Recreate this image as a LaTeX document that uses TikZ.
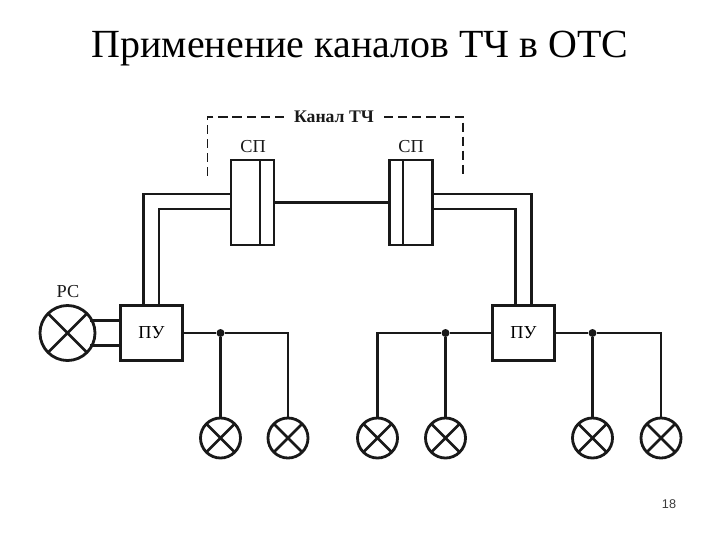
\documentclass[tikz,border=0pt]{standalone}
\usepackage{fontspec}
\setmainfont{Liberation Serif}
\newfontfamily\slidesans{Liberation Sans}
\usetikzlibrary{positioning}
\definecolor{ink}{RGB}{25,25,25}

\begin{document}
\begin{tikzpicture}[
  x=0.025cm, y=-0.025cm,
  wire/.style={draw=ink, line width=1.8pt},
  unit/.style={draw=ink, line width=2pt, inner sep=0pt, outer sep=0pt, minimum width=1.55cm, minimum height=1.39cm, font=\fontsize{13}{15}\selectfont},
  coupler/.style={draw=ink, line width=2pt, inner sep=0pt, outer sep=0pt, minimum width=1.075cm, minimum height=2.125cm},
  lamp/.style={circle, draw=ink, line width=2pt, inner sep=0pt, outer sep=0pt, minimum size=#1,
               path picture={\draw[ink, line width=1.8pt]
                 (path picture bounding box.north west) -- (path picture bounding box.south east)
                 (path picture bounding box.north east) -- (path picture bounding box.south west);}},
  lamp/.default=1cm,
  junction/.style={circle, fill=ink, inner sep=0pt, minimum size=0.2cm},
  lab/.style={font=\fontsize{13}{15}\selectfont, text=ink, inner sep=0pt},
  tract/.style={draw=ink, line width=1.3pt, dash pattern=on 6.5pt off 3.5pt}]
  \useasboundingbox (0,0) rectangle (720,540);
  \node[font=\fontsize{28.4}{34}\selectfont] (title) at (360,49) {Применение каналов ТЧ в ОТС};
  \node[font=\fontsize{9}{11}\slidesans\selectfont, text=ink!85] (page) at (669,504) {18};
  % couplers
  \node[coupler] (sp1) at (252.5,202.5) {};
  \node[coupler] (sp2) at (411,202.5) {};
  \coordinate (div1) at (260,160);
  \coordinate (div2) at (403,160);
  \draw[wire] (div1 |- sp1.north) -- (div1 |- sp1.south);
  \draw[wire] (div2 |- sp2.north) -- (div2 |- sp2.south);
  \node[lab] (splab1) at (253,147) {СП};
  \node[lab] (splab2) at (411,147) {СП};
  \draw[wire] (sp1.east) -- (sp2.west);
  % line units
  \node[unit] (pu1) at (151.5,333) {ПУ};
  \node[unit] (pu2) at (523.5,333) {ПУ};
  \coordinate (a1) at (143.5,194);
  \coordinate (a2) at (159,209);
  \coordinate (b1) at (531.5,194);
  \coordinate (b2) at (515.5,209);
  \draw[wire] (pu1.north -| a1) -- (a1) -- (sp1.west |- a1);
  \draw[wire] (pu1.north -| a2) -- (a2) -- (sp1.west |- a2);
  \draw[wire] (pu2.north -| b1) -- (b1) -- (sp2.east |- b1);
  \draw[wire] (pu2.north -| b2) -- (b2) -- (sp2.east |- b2);
  % station
  \node[lamp=1.375cm] (rs) at (67.5,333) {};
  \node[lab] (rslab) at (68,292) {РС};
  \coordinate (r1) at (90,320.5);
  \coordinate (r2) at (90,345.5);
  \draw[wire] (r1) -- (pu1.west |- r1);
  \draw[wire] (r2) -- (pu1.west |- r2);
  % lamps
  \node[lamp] (l1) at (220.5,438) {};
  \node[lamp] (l2) at (288,438) {};
  \node[lamp] (l3) at (377.5,438) {};
  \node[lamp] (l4) at (445.5,438) {};
  \node[lamp] (l5) at (592.5,438) {};
  \node[lamp] (l6) at (661,438) {};
  \node[junction] (j1) at (220.5,333) {};
  \node[junction] (j2) at (445.5,333) {};
  \node[junction] (j3) at (592.5,333) {};
  \draw[wire] (pu1.east) -- (j1) -- (l2.north |- j1) -- (l2.north);
  \draw[wire] (j1) -- (l1.north);
  \draw[wire] (pu2.west) -- (j2) -- (l3.north |- j2) -- (l3.north);
  \draw[wire] (j2) -- (l4.north);
  \draw[wire] (pu2.east) -- (j3) -- (l6.north |- j3) -- (l6.north);
  \draw[wire] (j3) -- (l5.north);
  % channel bracket
  \node[lab, font=\fontsize{12.6}{14}\bfseries\selectfont] (chan) at (334,117) {Канал ТЧ};
  \coordinate (c1) at (207.5,117);
  \coordinate (c2) at (463,117);
  \coordinate (e1) at (207.5,178);
  \coordinate (e2) at (463,178);
  \draw[tract] (chan.west) ++(-10,0) -- (c1) -- (e1);
  \draw[tract] (chan.east) ++(10,0) -- (c2) -- (e2);
\end{tikzpicture}
\end{document}
